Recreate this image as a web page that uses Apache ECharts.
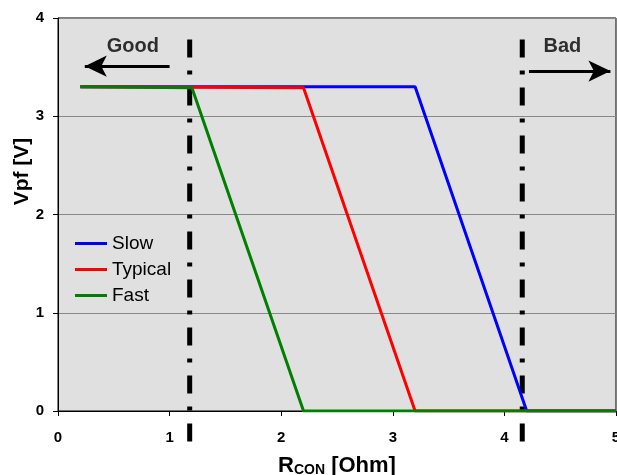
<!DOCTYPE html>
<html>
<head>
<meta charset="utf-8">
<script src="https://cdn.jsdelivr.net/npm/echarts@6/dist/echarts.min.js"></script>
<style>
html,body{margin:0;padding:0;background:#fff;}
#chart{width:617px;height:475px;}
</style>
</head>
<body>
<div id="chart"></div>
<script>
// R_CON [Ohm] vs Vpf [V]
var slowData = [[0.2, 3.3], [3.2, 3.3], [4.2, 0], [5, 0]];
var typicalData = [[0.2, 3.3], [2.2, 3.29], [3.2, 0], [5, 0]];
var fastData = [[0.2, 3.3], [1.2, 3.29], [2.2, 0], [5, 0]];
var xTicks = [0, 1, 2, 3, 4, 5];
var yTicks = [0, 1, 2, 3, 4];
// limit markers (dash-dot)
var goodLimit = [[1.18, 3.78], [1.18, -0.31]];
var badLimit = [[4.16, 3.78], [4.16, -0.31]];
// arrows and their captions
var goodArrow = [[1.0, 3.51], [0.24, 3.51]];
var badArrow = [[4.22, 3.46], [4.95, 3.46]];
var captions = [[0.67, 3.71, 'Good'], [4.52, 3.71, 'Bad']];

var font = 'Liberation Sans, Arial, sans-serif';
var chart = echarts.init(document.getElementById('chart'));

function limitSeries(data){
	return {
		type : 'line',
		data : data,
		symbol : 'none',
		clip : false,
		silent : true,
		z : 1,
		lineStyle : {color : '#000', width : 5, type : [18, 13, 4, 13]}
	};
}

function arrowSeries(data){
	return {
		type : 'line',
		data : [],
		silent : true,
		markLine : {
			silent : true,
			symbol : ['none', 'arrow'],
			symbolSize : [16, 22],
			label : {show : false},
			lineStyle : {color : '#000', width : 3, type : 'solid'},
			data : [[{coord : data[0]}, {coord : data[1]}]]
		}
	};
}

chart.setOption({
	animation : false,
	grid : {
		left : 58, top : 18, right : 1, bottom : 64,
		outerBoundsMode : 'none',
		show : true, backgroundColor : '#e0e0e0', borderColor : '#000', borderWidth : 1
	},
	legend : {
		orient : 'vertical',
		left : 70, top : 229,
		itemWidth : 32, itemHeight : 3, itemGap : 7,
		icon : 'rect',
		textStyle : {fontFamily : font, fontSize : 19, color : '#000'},
		data : ['Slow', 'Typical', 'Fast']
	},
	xAxis : {
		type : 'value', min : 0, max : 5, interval : 1,
		name : '{a|R}{b|CON}{a| [Ohm]}',
		nameLocation : 'middle', nameGap : 43,
		nameTextStyle : {
			rich : {
				a : {fontFamily : font, fontSize : 22, fontWeight : 'bold', color : '#000'},
				b : {fontFamily : font, fontSize : 14, fontWeight : 'bold', color : '#000', verticalAlign : 'bottom', padding : [9, 0, 0, 0]}
			}
		},
		axisLine : {lineStyle : {color : '#000', width : 1}},
		axisTick : {show : true, length : 5, lineStyle : {color : '#000'}},
		axisLabel : {fontFamily : font, fontSize : 15, fontWeight : 'bold', color : '#000', margin : 19,
			formatter : function(v){ return xTicks.indexOf(v) >= 0 ? String(v) : ''; }},
		splitLine : {show : false}
	},
	yAxis : {
		type : 'value', min : 0, max : 4, interval : 1,
		name : 'Vpf [V]',
		nameLocation : 'middle', nameGap : 25,
		nameMoveOverlap : false,
		nameTextStyle : {fontFamily : font, fontSize : 21, fontWeight : 'bold', color : '#000', padding : [0, 0, 0, 86]},
		axisLine : {show : true, lineStyle : {color : '#000', width : 1}},
		axisTick : {show : true, length : 5, lineStyle : {color : '#000'}},
		axisLabel : {fontFamily : font, fontSize : 15, fontWeight : 'bold', color : '#000', margin : 14,
			formatter : function(v){ return yTicks.indexOf(v) >= 0 ? String(v) : ''; }},
		splitLine : {show : true, lineStyle : {color : '#888', width : 1}}
	},
	series : [
		limitSeries(goodLimit),
		limitSeries(badLimit),
		arrowSeries(goodArrow),
		arrowSeries(badArrow),
		{
			type : 'scatter',
			data : captions,
			symbolSize : 0,
			silent : true,
			label : {
				show : true, position : 'inside',
				formatter : function(p){ return p.data[2]; },
				fontFamily : font, fontSize : 20, fontWeight : 'bold', color : '#000'
			}
		},
		{name : 'Slow', type : 'line', data : slowData, symbol : 'none', z : 3,
			lineStyle : {color : '#0000ff', width : 3}, itemStyle : {color : '#0000ff'}},
		{name : 'Typical', type : 'line', data : typicalData, symbol : 'none', z : 3,
			lineStyle : {color : '#ff0000', width : 3}, itemStyle : {color : '#ff0000'}},
		{name : 'Fast', type : 'line', data : fastData, symbol : 'none', z : 3,
			lineStyle : {color : '#008000', width : 3}, itemStyle : {color : '#008000'}}
	]
});
</script>
</body>
</html>
